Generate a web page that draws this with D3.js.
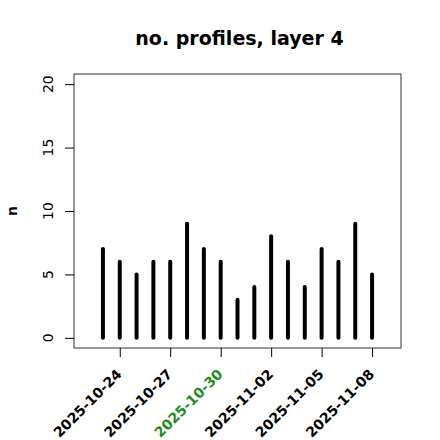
<!DOCTYPE html>
<html><head><meta charset="utf-8">
<script src="https://cdn.jsdelivr.net/npm/d3@7"></script>
<style>html,body{margin:0;padding:0;background:#fff;}</style>
</head><body>
<script>
const dates = ["2025-10-23","2025-10-24","2025-10-25","2025-10-26","2025-10-27","2025-10-28","2025-10-29","2025-10-30","2025-10-31","2025-11-01","2025-11-02","2025-11-03","2025-11-04","2025-11-05","2025-11-06","2025-11-07","2025-11-08"];
const counts = [7,6,5,6,6,9,7,6,3,4,8,6,4,7,6,9,5];
const xTickLabels = ["2025-10-24","2025-10-27","2025-10-30","2025-11-02","2025-11-05","2025-11-08"];
const highlightLabel = "2025-10-30";
const yTicks = [0,5,10,15,20];
const title = "no. profiles, layer 4";
const yLabel = "n";

const W = 440, H = 440;
const box = {l:74, r:401, t:74, b:348};
const parse = d3.utcParse("%Y-%m-%d");
const x0 = +parse("2025-10-22"), x1 = +parse("2025-11-09");
const ext = (x1 - x0) * 0.04;
const x = d3.scaleUtc().domain([new Date(x0 - ext), new Date(x1 + ext)]).range([box.l, box.r]);
const y = d3.scaleLinear().domain([-0.8, 20.8]).range([box.b, box.t]);

const svg = d3.select("body").append("svg").attr("width", W).attr("height", H)
  .style("font-family", "'DejaVu Sans', sans-serif");

svg.append("text").attr("x", (box.l+box.r)/2 + 2).attr("y", 45).attr("text-anchor","middle")
  .attr("font-weight","bold").attr("font-size",19).text(title);

// bars
svg.append("g").selectAll("line").data(dates).join("line")
  .attr("x1", d => x(parse(d))).attr("x2", d => x(parse(d)))
  .attr("y1", y(0)).attr("y2", (d,i) => y(counts[i]))
  .attr("stroke","#000").attr("stroke-width",4).attr("stroke-linecap","round");

// box
svg.append("rect").attr("x", box.l).attr("y", box.t).attr("width", box.r-box.l).attr("height", box.b-box.t)
  .attr("fill","none").attr("stroke","#333").attr("stroke-width",1);

// y axis
const ya = svg.append("g").attr("transform",`translate(${box.l},0)`)
  .call(d3.axisLeft(y).tickValues(yTicks).tickSize(9).tickFormat(""));
ya.select(".domain").remove();
svg.append("g").selectAll("text").data(yTicks).join("text")
  .attr("transform", d => `translate(${box.l-21},${y(d)}) rotate(-90)`)
  .attr("text-anchor","middle").attr("font-size",14).attr("fill","#000").text(d => d);

// x axis
const xa = svg.append("g").attr("transform",`translate(0,${box.b})`)
  .call(d3.axisBottom(x).tickValues(xTickLabels.map(parse)).tickSize(9).tickFormat(""));
xa.select(".domain").remove();
svg.append("g").selectAll("text").data(xTickLabels).join("text")
  .attr("transform", d => `translate(${x(parse(d))+3},${box.b+27}) rotate(-45)`)
  .attr("text-anchor","end").attr("font-size",14).attr("font-weight","bold")
  .attr("fill", d => d === highlightLabel ? "#228B22" : "#000").text(d => d);

svg.append("text").attr("transform",`translate(17,${(box.t+box.b)/2}) rotate(-90)`)
  .attr("text-anchor","middle").attr("font-weight","bold").attr("font-size",14).text(yLabel);
</script>
</body></html>
